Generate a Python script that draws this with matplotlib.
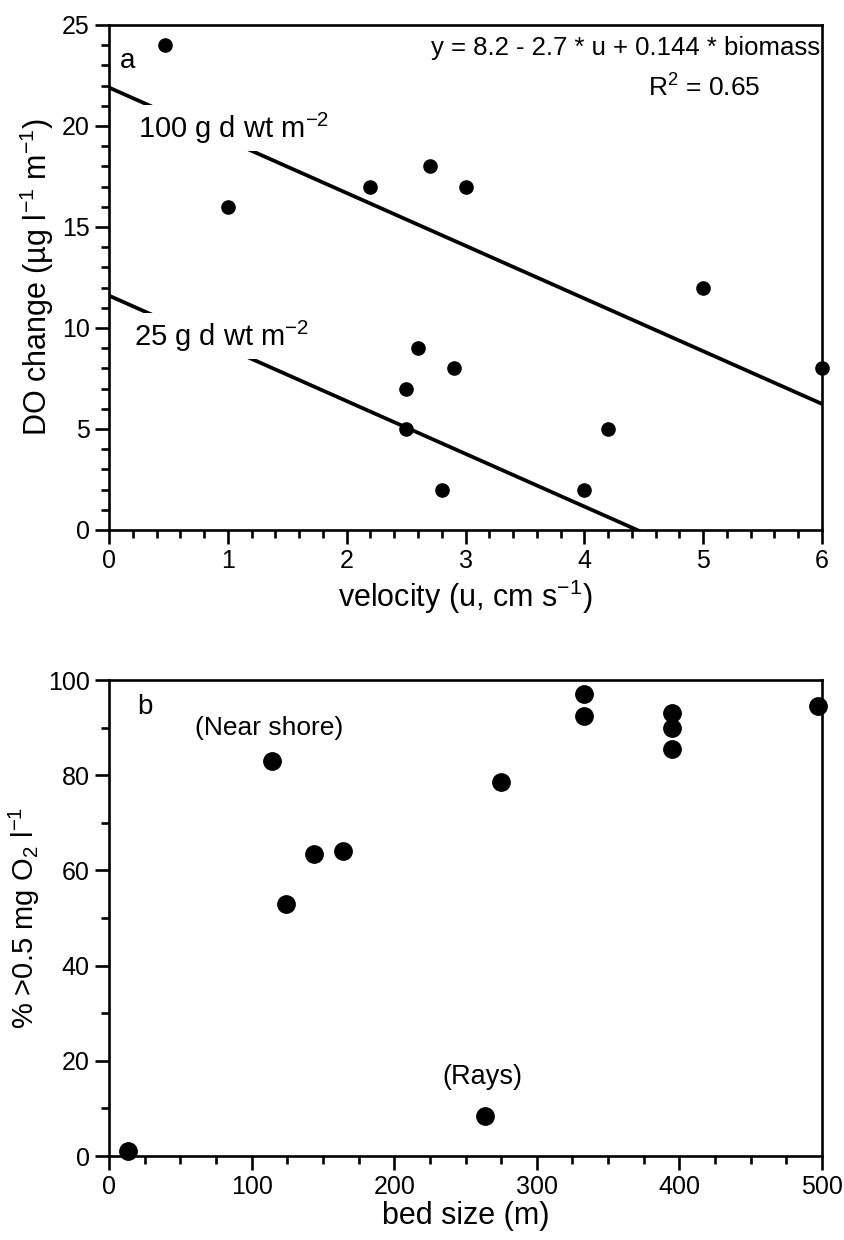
import matplotlib
matplotlib.use("Agg")
import matplotlib.pyplot as plt
from matplotlib.ticker import MultipleLocator
import numpy as np

# --- Panel a: DO change vs velocity ---
velocity = [0.47, 1.0, 2.2, 2.7, 3.0, 5.0, 6.0, 2.6, 2.9, 2.5, 2.5, 4.2, 2.8, 4.0]
do_change = [24, 16, 17, 18, 17, 12, 8, 9, 8, 7, 5, 5, 2, 2]

# regression lines as drawn, one per biomass level
biomass_labels = ["100 g d wt m$^{-2}$", "25 g d wt m$^{-2}$"]
line_intercepts = [21.9, 11.6]
line_slope = -2.61

# --- Panel b: % >0.5 mg O2 vs bed size ---
bed_size = [13, 114, 124, 144, 164, 275, 264, 333, 333, 395, 395, 395, 497]
pct_oxic = [1, 83, 53, 63.5, 64, 78.5, 8.5, 97, 92.5, 93, 90, 85.5, 94.5]

plt.rcParams["font.family"] = ["Liberation Sans", "DejaVu Sans"]
plt.rcParams["mathtext.default"] = "regular"

LW = 1.9


def style_axes(ax, xmaj, xmin, ymaj, ymin):
    for sp in ax.spines.values():
        sp.set_linewidth(LW)
    ax.xaxis.set_major_locator(MultipleLocator(xmaj))
    ax.xaxis.set_minor_locator(MultipleLocator(xmin))
    ax.yaxis.set_major_locator(MultipleLocator(ymaj))
    ax.yaxis.set_minor_locator(MultipleLocator(ymin))
    ax.tick_params(which="major", direction="out", length=10, width=LW, pad=4,
                   labelsize=18)
    ax.tick_params(which="minor", direction="out", length=5.5, width=LW)


fig = plt.figure(figsize=(8.45, 12.4), dpi=100)

# top panel
ax1 = fig.add_axes([0.129, 0.5726, 0.8438, 0.4073])
ax1.set_xlim(0, 6)
ax1.set_ylim(0, 25)
u = np.array([0, 6])
for b0 in line_intercepts:
    ax1.plot(u, b0 + line_slope * u, color="black", lw=2.7, solid_capstyle="butt",
             zorder=2)
ax1.plot(velocity, do_change, "o", color="black", ms=9.5, zorder=4, clip_on=False)
style_axes(ax1, 1, 0.2, 5, 1)

label_pos = [(0.24, 19.9), (0.21, 9.6)]
for txt, (x, y) in zip(biomass_labels, label_pos):
    ax1.text(x, y, txt, fontsize=21, va="center", ha="left", zorder=3,
             bbox=dict(facecolor="white", edgecolor="none", pad=4))

ax1.text(5.98, 23.86, "y = 8.2 - 2.7 * u + 0.144 * biomass", fontsize=18.5,
         ha="right", va="center")
ax1.text(5.01, 21.9, "R$^{2}$ = 0.65", fontsize=19, ha="center", va="center")
ax1.text(0.09, 23.2, "a", fontsize=20, ha="left", va="center")

ax1.set_xlabel("velocity (u, cm s$^{-1}$)", fontsize=22, labelpad=3)
ax1.set_ylabel("DO change (µg l$^{-1}$ m$^{-1}$)", fontsize=22, labelpad=4)

# bottom panel
ax2 = fig.add_axes([0.129, 0.0677, 0.8438, 0.3839])
ax2.set_xlim(0, 500)
ax2.set_ylim(0, 100)
ax2.plot(bed_size, pct_oxic, "o", color="black", ms=12.5, zorder=4, clip_on=False)
style_axes(ax2, 100, 25, 20, 10)

ax2.text(20, 94.3, "b", fontsize=20, ha="left", va="center")
ax2.text(60, 90, "(Near shore)", fontsize=19, ha="left", va="center")
ax2.text(262, 16.6, "(Rays)", fontsize=19.5, ha="center", va="center")

ax2.set_xlabel("bed size (m)", fontsize=22, labelpad=1)
ax2.set_ylabel("% >0.5 mg O$_{2}$ l$^{-1}$", fontsize=21, labelpad=4)

fig.savefig("out.png", dpi=100)
